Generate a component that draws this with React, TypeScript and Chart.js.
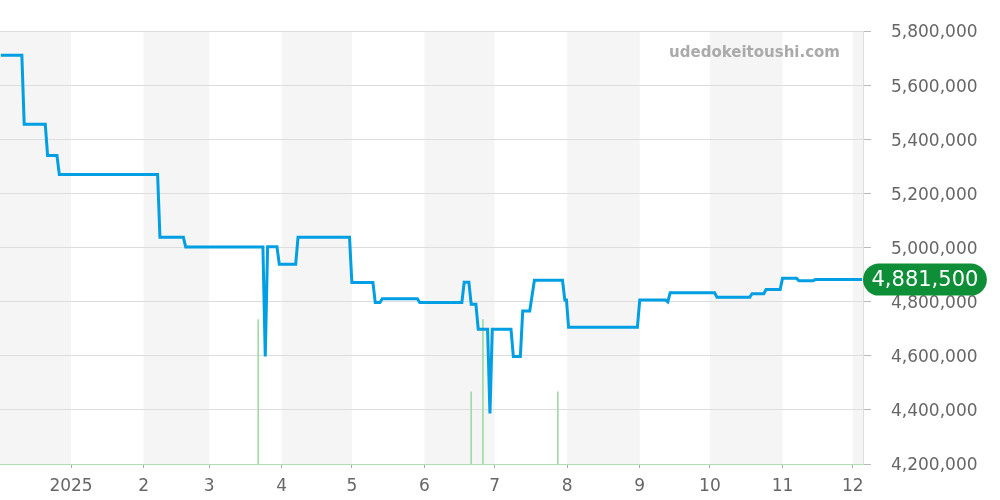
import { useEffect, useRef } from "react";
import { Chart, registerables } from "chart.js";

Chart.register(...registerables);

// x values are days counted from 2025-01-01
const tickDays = [0, 31, 59, 90, 120, 151, 181, 212, 243, 273, 304, 334];
const tickLabels = ["2025", "2", "3", "4", "5", "6", "7", "8", "9", "10", "11", "12"];

// shaded months (start day, end day)
const bandStarts = [-31, 31, 90, 151, 212, 273, 334];
const bandEnds = [0, 59, 120, 181, 243, 304, 365];

const priceDays = [
  -30, -21, -20, -11, -10, -6, -5, 37, 38, 48, 49, 82, 83, 84, 88, 89, 96, 97, 119, 120,
  129, 130, 132, 133, 148, 149, 167, 168, 170, 171, 173, 174, 178, 179, 180, 188, 189, 192,
  193, 196, 198, 210, 211, 211.7, 212.6, 242, 243, 254, 255, 256, 275, 276, 290, 291, 296, 297, 303,
  304, 310, 311, 317, 318, 338,
];
const priceValues = [
  5710000, 5710000, 5455000, 5455000, 5340000, 5340000, 5270000, 5270000, 5038000, 5038000,
  5002000, 5002000, 4597000, 5003000, 5003000, 4938000, 4938000, 5038000, 5038000, 4871000,
  4871000, 4797000, 4797000, 4811000, 4811000, 4797000, 4797000, 4872000, 4872000, 4790000,
  4790000, 4698000, 4698000, 4387000, 4698000, 4698000, 4597000, 4597000, 4765000, 4765000,
  4879000, 4879000, 4806000, 4806000, 4705000, 4705000, 4806000, 4806000, 4799000, 4833000, 4833000,
  4816000, 4816000, 4829000, 4829000, 4845000, 4845000, 4886000, 4886000, 4877000, 4877000,
  4881500, 4881500,
];

const volumeDays = [80, 171, 176, 208];
const volumeValues = [2, 1, 2, 1];

const lastPriceLabel = "4,881,500";
const watermark = "udedokeitoushi.com";

const FONT = "'DejaVu Sans', Verdana, sans-serif";

const bandsPlugin = {
  id: "bands",
  beforeDraw(chart: any) {
    const { ctx, chartArea, scales } = chart;
    const xs = scales.x;
    ctx.save();
    ctx.beginPath();
    ctx.rect(chartArea.left, chartArea.top, chartArea.right - chartArea.left, chartArea.bottom - chartArea.top);
    ctx.clip();
    ctx.fillStyle = "#f5f5f5";
    for (let i = 0; i < bandStarts.length; i++) {
      const x1 = xs.getPixelForValue(bandStarts[i]);
      const x2 = xs.getPixelForValue(bandEnds[i]);
      ctx.fillRect(x1, chartArea.top, x2 - x1, chartArea.bottom - chartArea.top);
    }
    ctx.restore();
  },
  beforeDatasetsDraw(chart: any) {
    const { ctx } = chart;
    ctx.save();
    ctx.font = `bold 15px ${FONT}`;
    ctx.fillStyle = "#aaaaaa";
    ctx.textAlign = "right";
    ctx.textBaseline = "middle";
    ctx.fillText(watermark, 840, 53);
    ctx.restore();
  },
  afterDraw(chart: any) {
    const { ctx, chartArea, scales } = chart;
    const y = scales.y.getPixelForValue(priceValues[priceValues.length - 1]);
    ctx.save();
    ctx.font = `21px ${FONT}`;
    const tw = ctx.measureText(lastPriceLabel).width;
    const x = chartArea.right;
    const w = tw + 17;
    const h = 32;
    const r = 16;
    ctx.fillStyle = "#0e8f37";
    ctx.beginPath();
    ctx.moveTo(x + r, y - h / 2);
    ctx.lineTo(x + w - r, y - h / 2);
    ctx.arc(x + w - r, y, r, -Math.PI / 2, Math.PI / 2);
    ctx.lineTo(x + r, y + h / 2);
    ctx.arc(x + r, y, r, Math.PI / 2, (3 * Math.PI) / 2);
    ctx.closePath();
    ctx.fill();
    ctx.fillStyle = "#ffffff";
    ctx.textAlign = "left";
    ctx.textBaseline = "middle";
    ctx.fillText(lastPriceLabel, x + 8.5, y + 1);
    ctx.restore();
  },
};

export default function App() {
  const ref = useRef<HTMLCanvasElement | null>(null);

  useEffect(() => {
    if (!ref.current) return;
    Chart.defaults.font.family = FONT;
    const chart = new Chart(ref.current, {
      type: "line",
      data: {
        datasets: [
          {
            type: "line",
            data: priceDays.map((d, i) => ({ x: d, y: priceValues[i] })),
            borderColor: "#009fe3",
            borderWidth: 3,
            pointRadius: 0,
            tension: 0,
            fill: false,
            yAxisID: "y",
            order: 0,
          } as any,
          {
            type: "bar",
            data: volumeDays.map((d, i) => ({ x: d, y: volumeValues[i] })),
            backgroundColor: "#9fdaa6",
            barThickness: 1,
            yAxisID: "vol",
            order: 1,
          } as any,
        ],
      },
      options: {
        responsive: false,
        animation: false,
        layout: { padding: { top: 31, left: 0, right: 0, bottom: 0 } },
        plugins: { legend: { display: false }, tooltip: { enabled: false } },
        scales: {
          x: {
            type: "linear",
            min: -30.34,
            max: 338.4,
            offset: false,
            afterBuildTicks: (scale: any) => {
              scale.ticks = tickDays.map((v) => ({ value: v }));
            },
            afterFit: (scale: any) => {
              scale.height = 36;
            },
            ticks: {
              autoSkip: false,
              maxRotation: 0,
              padding: 8,
              color: "#666666",
              font: { size: 17 },
              callback: (v: any) => {
                const i = tickDays.indexOf(Number(v));
                return i >= 0 ? tickLabels[i] : "";
              },
            },
            grid: {
              offset: false,
              drawOnChartArea: false,
              drawTicks: true,
              tickLength: 4,
              tickColor: "#aaaaaa",
            },
            border: { display: true, color: "rgba(120,200,130,0.6)", dash: [1, 1], width: 1 },
          },
          y: {
            position: "right",
            min: 4200000,
            max: 5800000,
            afterFit: (scale: any) => {
              scale.width = 137;
            },
            ticks: {
              stepSize: 200000,
              padding: 20,
              labelOffset: 2,
              color: "#666666",
              font: { size: 17 },
              callback: (v: any) => Number(v).toLocaleString("en-US"),
            },
            grid: {
              color: (c: any) => (c.tick && c.tick.value === 4200000 ? "rgba(0,0,0,0)" : "#dddddd"),
              tickColor: "#bbbbbb",
              tickLength: 8,
              lineWidth: 1,
            },
            border: { display: true, color: "#dddddd" },
          },
          vol: {
            display: false,
            min: 0,
            max: 6,
          },
        },
      } as any,
      plugins: [bandsPlugin],
    });
    return () => chart.destroy();
  }, []);

  return (
    <div style={{ position: "absolute", left: 0, top: 0, width: 1000, height: 500, background: "#fff" }}>
      <canvas ref={ref} width={1000} height={500} style={{ display: "block" }} />
    </div>
  );
}
